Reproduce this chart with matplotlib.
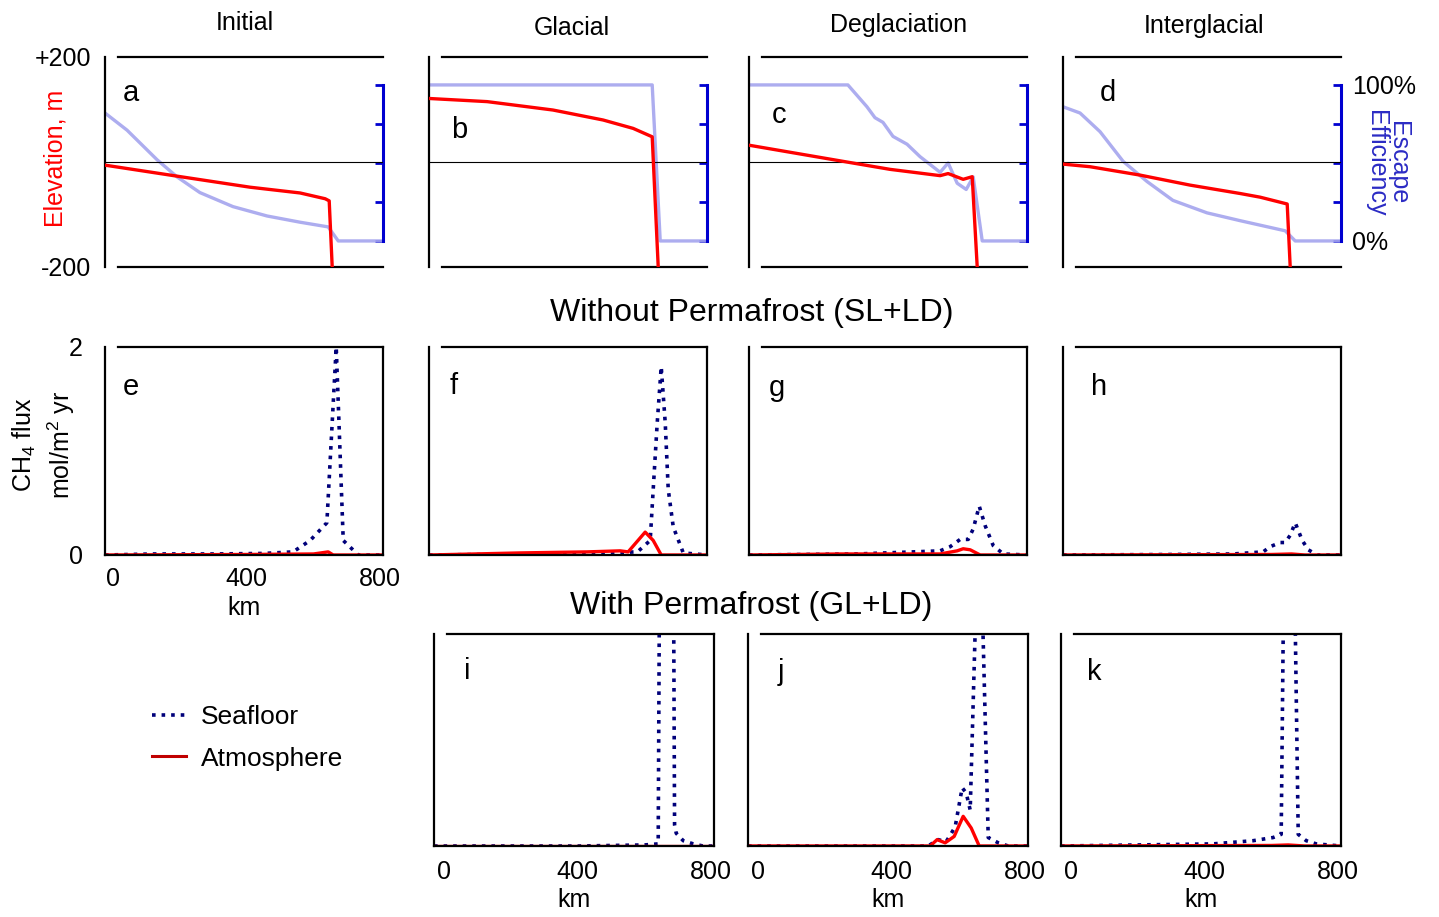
import matplotlib
matplotlib.use("Agg")
import matplotlib.pyplot as plt
from matplotlib.lines import Line2D

plt.rcParams['font.family'] = ['Liberation Sans', 'DejaVu Sans']
plt.rcParams['mathtext.fontset'] = 'custom'
plt.rcParams['mathtext.rm'] = 'Liberation Sans'
plt.rcParams['mathtext.it'] = 'Liberation Sans:italic'

W, H = 1439, 917

# ---------------- data ----------------
stages = ['Initial', 'Glacial', 'Deglaciation', 'Interglacial']
top_letters = ['a', 'b', 'c', 'd']
mid_letters = ['e', 'f', 'g', 'h']
bot_letters = ['i', 'j', 'k']

# shelf surface elevation (km offshore -> m relative to sea level)
elev_km_a = [-24, 192, 410, 560, 635, 647, 656, 662]
elev_m_a = [-6, -27, -48, -59, -70, -74, -200, -215]
elev_km_b = [-24, 150, 347, 497, 587, 644, 662, 665]
elev_m_b = [121, 115, 99, 80, 64, 48, -200, -215]
elev_km_c = [-24, 278, 398, 548, 572, 617, 644, 659, 662]
elev_m_c = [32, -1, -14, -26, -22, -33, -28, -200, -215]
elev_km_d = [-24, 57, 207, 356, 506, 566, 647, 656, 660]
elev_m_d = [-4, -9, -25, -44, -60, -67, -80, -200, -215]

# methane escape efficiency (%)
esc_km_a = [-24, 42, 132, 192, 260, 359, 461, 560, 644, 674, 808]
esc_pct_a = [82, 71, 52, 41, 31, 22, 16, 12, 9, 0, 0]
esc_km_b = [-24, 644, 668, 808]
esc_pct_b = [100, 100, 0, 0]
esc_km_c = [-24, 272, 329, 353, 377, 407, 449, 488, 548, 572, 599, 626, 647, 674, 808]
esc_pct_c = [100, 100, 86, 79, 76, 67, 62, 54, 44, 50, 37, 33, 41, 0, 0]
esc_km_d = [-24, 27, 87, 156, 228, 305, 407, 506, 641, 671, 808]
esc_pct_d = [86, 82, 70, 51, 38, 26, 18, 13, 6.5, 0, 0]

# CH4 flux without permafrost (mol/m2 yr)
sea_km_e = [-24, 120, 300, 450, 539, 590, 640, 668, 689, 734, 808]
sea_e = [0, 0.01, 0.01, 0.015, 0.03, 0.14, 0.31, 2.0, 0.14, 0, 0]
atm_km_e = [-24, 400, 600, 644, 659, 808]
atm_e = [0, 0.005, 0.01, 0.03, 0, 0]

sea_km_f = [-24, 300, 500, 600, 638, 647, 659, 671, 683, 692, 707, 737, 808]
sea_f = [0, 0.01, 0.02, 0.03, 0.14, 0.63, 1.27, 1.81, 1.27, 0.63, 0.27, 0.02, 0]
atm_km_f = [-24, 248, 449, 548, 572, 623, 647, 671, 808]
atm_f = [0, 0.02, 0.03, 0.04, 0.03, 0.22, 0.14, 0, 0]

sea_km_g = [-24, 300, 467, 548, 578, 608, 632, 647, 665, 683, 707, 737, 808]
sea_g = [0, 0.01, 0.03, 0.04, 0.08, 0.15, 0.15, 0.25, 0.47, 0.28, 0.09, 0.01, 0]
atm_km_g = [-24, 250, 548, 599, 617, 638, 668, 808]
atm_g = [0, 0.01, 0.01, 0.04, 0.06, 0.05, 0, 0]

sea_km_h = [-24, 300, 485, 575, 596, 626, 641, 656, 671, 692, 710, 737, 808]
sea_h = [0, 0.005, 0.01, 0.03, 0.08, 0.12, 0.12, 0.19, 0.31, 0.14, 0.05, 0, 0]
atm_km_h = [-24, 600, 660, 700, 808]
atm_h = [0, 0.005, 0.01, 0, 0]

# CH4 flux with permafrost
sea_km_i = [-30, 400, 600, 641, 667, 690, 695, 716, 746, 775, 808]
sea_i = [0, 0, 0.01, 0.02, 17, 0.2, 0.12, 0.05, 0.02, 0, 0]
atm_km_i = [-30, 808]
atm_i = [0, 0]

sea_km_j = [-30, 509, 539, 563, 590, 611, 623, 635, 662, 689, 719, 749, 808]
sea_j = [0, 0, 0.06, 0.04, 0.18, 0.55, 0.5, 0.34, 3.4, 0.08, 0.03, 0, 0]
atm_km_j = [-30, 515, 536, 560, 587, 614, 638, 662, 808]
atm_j = [0, 0, 0.06, 0.03, 0.09, 0.28, 0.17, 0, 0]

sea_km_k = [-30, 425, 545, 605, 629, 650, 680, 704, 734, 808]
sea_k = [0, 0.02, 0.05, 0.08, 0.11, 6.7, 0.11, 0.05, 0.02, 0]
atm_km_k = [-30, 600, 650, 700, 808]
atm_k = [0, 0.005, 0.01, 0, 0]

km_ticks = [0, 400, 800]

elev_profiles = [(elev_km_a, elev_m_a), (elev_km_b, elev_m_b),
                 (elev_km_c, elev_m_c), (elev_km_d, elev_m_d)]
esc_profiles = [(esc_km_a, esc_pct_a), (esc_km_b, esc_pct_b),
                (esc_km_c, esc_pct_c), (esc_km_d, esc_pct_d)]
flux_no_pf = [(sea_km_e, sea_e, atm_km_e, atm_e), (sea_km_f, sea_f, atm_km_f, atm_f),
              (sea_km_g, sea_g, atm_km_g, atm_g), (sea_km_h, sea_h, atm_km_h, atm_h)]
flux_pf = [(sea_km_i, sea_i, atm_km_i, atm_i), (sea_km_j, sea_j, atm_km_j, atm_j),
           (sea_km_k, sea_k, atm_km_k, atm_k)]

# ---------------- styling ----------------
RED = '#ff0000'
NAVY = '#00007a'
LAVENDER = '#a4a4ee'
BLUE = '#0000d0'
FS = 18


def box(left, top, right, bottom):
    return [left / W, 1 - bottom / H, (right - left) / W, (bottom - top) / H]


def frame(ax, xlim, top=True, right=True):
    ax.set_xlim(*xlim)
    for s in ax.spines.values():
        s.set_linewidth(1.6)
    ax.spines['top'].set_visible(top)
    ax.spines['right'].set_visible(right)
    ax.spines['top'].set_bounds(xlim[0] + 39, xlim[1])
    ax.tick_params(length=0, labelsize=FS)
    ax.set_xticks([])
    ax.set_yticks([])


fig = plt.figure(figsize=(W / 100, H / 100), dpi=100)

# column titles
title_pos = [(245, 23), (572, 28), (899, 25), (1204, 26)]
for name, (x, y) in zip(stages, title_pos):
    fig.text(x / W, 1 - y / H, name, ha='center', va='center', fontsize=FS)

# ---- row 1: elevation + escape efficiency ----
lefts = [105, 429, 749, 1063]
letter_top_pos = [(131, 93), (459, 130), (779, 115), (1108, 93)]
for i, left in enumerate(lefts):
    ax = fig.add_axes(box(left, 57, left + 278, 267))
    frame(ax, (-24, 808), right=False)
    ax.spines['bottom'].set_bounds(15, 808)
    ax.set_ylim(-200, 200)
    ax.axhline(0, color='black', lw=0.8, zorder=1)

    axe = ax.twinx()
    axe.set_ylim(-16.7, 117.9)
    for s in ['left', 'top', 'bottom']:
        axe.spines[s].set_visible(False)
    axe.spines['right'].set_color(BLUE)
    axe.spines['right'].set_linewidth(2.2)
    axe.spines['right'].set_bounds(0, 100)
    axe.set_yticks([0, 25, 50, 75, 100])
    axe.tick_params(axis='y', direction='in', length=6, width=2, color=BLUE,
                    labelsize=FS, pad=8)
    if i == 3:
        axe.set_yticklabels(['0%', '', '', '', '100%'])
    else:
        axe.set_yticklabels([])

    km, pct = esc_profiles[i]
    axe.plot(km, pct, color=LAVENDER, lw=2.4, alpha=0.9, zorder=2)
    km, elev = elev_profiles[i]
    ax.plot(km, elev, color=RED, lw=2.4, zorder=3)
    ax.set_zorder(axe.get_zorder() + 1)
    ax.patch.set_visible(False)

    if i == 0:
        ax.set_yticks([200, -200])
        ax.set_yticklabels(['+200', '-200'])
        ax.tick_params(axis='y', pad=10)

    lx, ly = letter_top_pos[i]
    fig.text(lx / W, 1 - ly / H, top_letters[i], ha='center', va='center', fontsize=21)

fig.text(55 / W, 1 - 158 / H, 'Elevation, m', rotation=90, color=RED,
         ha='center', va='center', fontsize=FS)
fig.text(1387 / W, 1 - 163 / H, 'Escape\nEfficiency', rotation=270, color='#2b2bc4',
         ha='center', va='center', fontsize=FS, linespacing=0.9)

# ---- row 2: flux without permafrost ----
fig.text(752 / W, 1 - 313 / H, 'Without Permafrost (SL+LD)', ha='center', va='center',
         fontsize=23)
letter_mid_pos = [(131, 387), (454, 386), (777, 388), (1099, 387)]
for i, left in enumerate(lefts):
    ax = fig.add_axes(box(left, 347, left + 278, 555))
    frame(ax, (-24, 808))
    ax.set_ylim(0, 2)
    skm, sea, akm, atm = flux_no_pf[i]
    ax.plot(skm, sea, color=NAVY, ls=':', lw=2.6, clip_on=True)
    ax.plot(akm, atm, color=RED, lw=2.4)
    if i == 0:
        ax.set_yticks([0, 2])
        ax.set_yticklabels(['0', '2'])
        ax.tick_params(axis='y', pad=16)
        ax.set_xticks(km_ticks)
        ax.tick_params(axis='x', pad=9)
        ax.set_xlabel('km', fontsize=FS, labelpad=3)
    lx, ly = letter_mid_pos[i]
    fig.text(lx / W, 1 - ly / H, mid_letters[i], ha='center', va='center', fontsize=21)

fig.text(44 / W, 1 - 445 / H, 'CH$_4$ flux\nmol/m$^2$ yr', rotation=90,
         ha='center', va='center', fontsize=FS, linespacing=1.3)

# ---- row 3: flux with permafrost ----
fig.text(751 / W, 1 - 606 / H, 'With Permafrost (GL+LD)', ha='center', va='center',
         fontsize=23)
lefts3 = [434, 748, 1061]
letter_bot_pos = [(467, 671), (781, 672), (1094, 672)]
for i, left in enumerate(lefts3):
    ax = fig.add_axes(box(left, 634, left + 280, 846))
    frame(ax, (-30, 808))
    ax.set_ylim(0, 2)
    skm, sea, akm, atm = flux_pf[i]
    ax.plot(skm, sea, color=NAVY, ls=':', lw=2.6)
    ax.plot(akm, atm, color=RED, lw=2.4)
    ax.set_xticks(km_ticks)
    ax.tick_params(axis='x', pad=10)
    ax.set_xlabel('km', fontsize=FS, labelpad=3)
    lx, ly = letter_bot_pos[i]
    fig.text(lx / W, 1 - ly / H, bot_letters[i], ha='center', va='center', fontsize=21)

# legend in the empty slot
handles = [Line2D([], [], color=NAVY, ls=':', lw=2.6),
           Line2D([], [], color='#c00000', lw=2.2)]
fig.legend(handles, ['Seafloor', 'Atmosphere'], loc='center left',
           bbox_to_anchor=(152 / W, 1 - 738 / H), frameon=False, fontsize=19,
           handlelength=1.3, handletextpad=0.55, labelspacing=0.65,
           borderpad=0, borderaxespad=0)

fig.savefig('out.png', dpi=100)
